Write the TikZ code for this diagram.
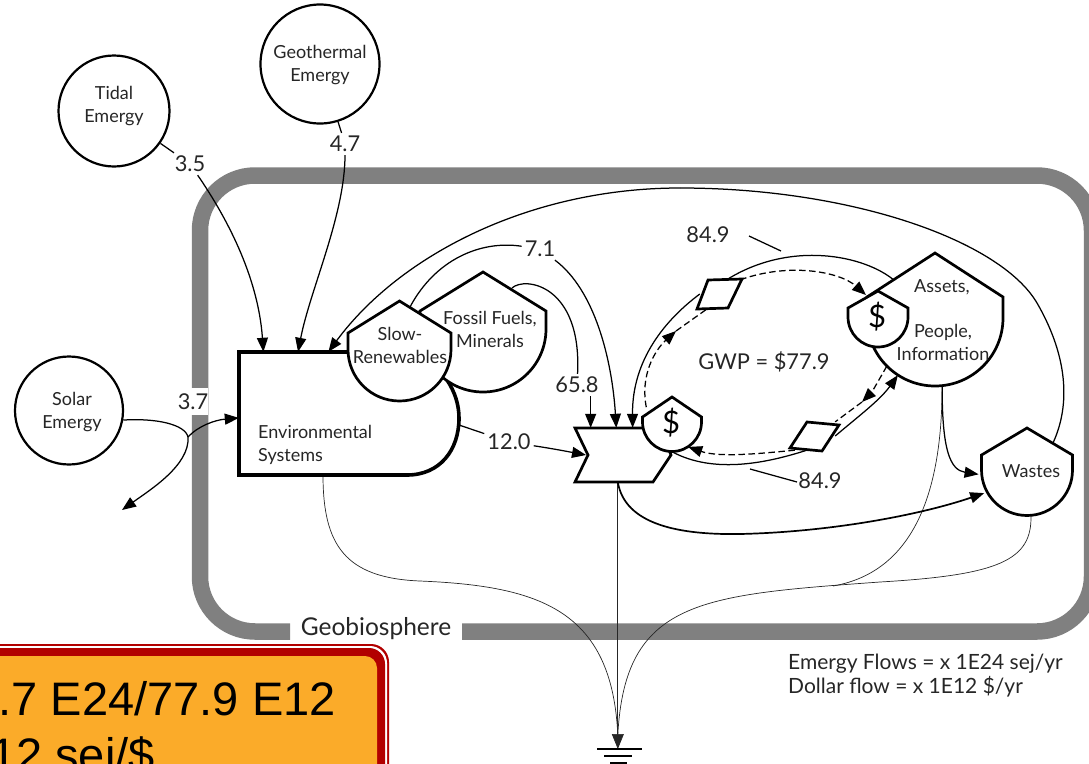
\documentclass[tikz,border=0pt]{standalone}
\usepackage{fontspec}
\setmainfont{Lato}
\newfontfamily\notefont{Liberation Sans}
\usetikzlibrary{arrows.meta,positioning}
\definecolor{bandgray}{gray}{0.5}
\definecolor{notered}{RGB}{178,0,0}
\definecolor{noteorange}{RGB}{251,171,41}
\newcommand{\tankshape}[5]{\draw[tankline] (#1,#2) -- (#1+#5,#3) -- (#1+#5,#4)
  arc[start angle=0,end angle=-180,radius=#5 pt] -- (#1-#5,#3) -- cycle;}

\begin{document}
\begin{tikzpicture}[
  x=1pt, y=-1pt,
  source/.style={draw, circle, line width=2.2pt, inner sep=0pt, fill=white},
  hold/.style={circle, inner sep=0pt},
  boxhold/.style={rectangle, inner sep=0pt},
  tankline/.style={draw, line width=2.7pt, fill=white, line join=miter},
  txt/.style={font=\fontsize{18}{23}\selectfont, text=black!85, align=center, inner sep=0pt},
  lbl/.style={font=\fontsize{21.8}{24}\selectfont, text=black!85, inner sep=3pt},
  flow/.style={line width=1.25pt},
  arr/.style={flow, -{Triangle[length=14pt,width=11pt]}},
  moneydash/.style={line width=1.25pt, dash pattern=on 6.5pt off 3.5pt},
  dasharr/.style={moneydash, -{Triangle[length=14pt,width=11pt]}},
  thinflow/.style={line width=0.7pt, black!85},
  band/.style={line width=16.5pt, bandgray, rounded corners=55pt}
]
  \clip (0,0) rectangle (1089,763);

  \draw[band] (290,631.5) -- (200,631.5) -- (200,175.5) -- (1092,175.5)
    -- (1092,631.5) -- (462,631.5);
  \node[lbl, fill=white, minimum height=27pt, inner sep=0pt] (lblSolar) at (193,401.5) {3.7};

  \node[source, minimum size=111pt] (tidal) at (114,111) {};
  \node[source, minimum size=119pt] (geo) at (320,64) {};
  \node[source, minimum size=108pt] (solar) at (69,410.5) {};

  \node[boxhold, minimum width=168pt, minimum height=123pt] (env) at (323,413.5) {};
  \node[boxhold, minimum width=68pt, minimum height=54pt] (prod) at (609,455) {};
  \node[boxhold, minimum width=40pt, minimum height=28pt] (priceup) at (720,294) {};
  \node[boxhold, minimum width=40pt, minimum height=28pt] (pricelow) at (815,436) {};
  \foreach \nm/\cx/\cy/\hw in {fossil/483/329/63, slow/399.5/349.5/51.5, cash/672/422/29.5,
    assets/935/318/68, assetcash/878/317/30, wastes/1027/470/45.5}
    \node[hold, minimum size=2*\hw pt] (\nm) at (\cx,\cy) {};

  \coordinate (slowout) at (410,307);
  \coordinate (fossilout) at (512,288);
  \coordinate (envout) at (459,425);
  \coordinate (assetsout) at (895,281);
  \coordinate (wasteout) at (1051,447);
  \coordinate (notch) at (586,455);
  \coordinate (solarsplit) at (188,437);
  \coordinate (solarout) at (122,510);
  \coordinate (cashin) at (866,295);
  \coordinate (tipleft) at (676,331);
  \coordinate (tipright) at (862,402);
  \coordinate (sink) at (617.8,749);
  \coordinate (sinkend) at (617.8,735);

  \node[lbl] (lblTidal) at (190,164) {3.5};
  \node[lbl] (lblGeo) at (345,144) {4.7};
  \node[lbl] (lblSeven) at (540,249) {7.1};
  \node[lbl] (lblFossil) at (577,385) {65.8};
  \node[lbl] (lblTwelve) at (509,442) {12.0};
  \node[lbl] (lblTop) at (708,235) {84.9};
  \node[lbl] (lblBottom) at (820,481) {84.9};

  \draw[thinflow] (env.south) .. controls (323,545) and (345,578) .. (420,581)
    .. controls (540,586) and (612,610) .. (sinkend);
  \draw[thinflow] (wastes.-85) .. controls (1032,560) and (1000,575) .. (880,582)
    .. controls (700,595) and (625,600) .. (sinkend);
  \draw[thinflow] (assets.-84) .. controls (942,470) and (925,570) .. (833,586);
  \draw[thinflow, -{Triangle[length=15pt,width=12pt]}] (prod.-72) -- (prod.-72 |- sink);

  \draw[flow] (tidal) -- (lblTidal);
  \draw[flow] (geo) -- (lblGeo);
  \draw[flow] (slowout) .. controls (435,260) and (480,240) .. (lblSeven);
  \draw[flow] (fossilout) .. controls (525,276) and (582,285) .. (lblFossil);
  \draw[flow] (envout) -- (lblTwelve);
  \draw[flow] (wasteout) .. controls (1070,410) and (1070,360) .. (1037,303)
    .. controls (1000,240) and (850,188) .. (680,188);
  \draw[flow] (assetsout) .. controls (865,255) and (790,240) .. (priceup.65);
  \draw[flow] (pricelow.-120) .. controls (770,462) and (715,475) .. (cash.-90);
  \draw[flow] (lblTop) ++(41,1) -- ++(32,15);
  \draw[flow] (lblBottom) ++(-23,1) -- ++(-47,-13);

  \draw[tankline, line width=3.6pt] (348,352) -- (239,352) -- (239,475) -- (407,475)
    .. controls (440,475) and (459,450) .. (459,418) .. controls (459,405) and (455,392) .. (447,380);
  \tankshape{483}{272}{311}{329}{63}
  \tankshape{399.5}{301}{333}{349.5}{51.5}
  \draw[tankline] (575,428) -- (660,428) -- (671,455) -- (653,482) -- (575,482) -- (588,455) -- cycle;
  \tankshape{672}{397}{417}{422}{29.5}
  \tankshape{935}{253}{297}{318}{68}
  \tankshape{878}{291}{308}{317}{30}
  \tankshape{1027}{428}{455}{470}{45.5}
  \draw[tankline] (708,280) -- (742,279) -- (728,308) -- (697,309) -- cycle;
  \draw[tankline] (807,422) -- (839,425) -- (822,451) -- (790,448) -- cycle;

  \draw[arr] (lblTidal) .. controls (225,215) and (258,275) .. (env.134);
  \draw[arr] (lblGeo) .. controls (345,215) and (310,290) .. (env.112);
  \draw[arr] (680,188) .. controls (530,188) and (400,255) .. (env.85);
  \draw[flow] (solar.-10) .. controls (155,418) and (185,424) .. (solarsplit);
  \draw[arr] (solarsplit) .. controls (190,465) and (150,490) .. (solarout);
  \draw[arr] (solarsplit) .. controls (198,426) and (215,420) .. (env.183);
  \draw[arr] (lblSeven) .. controls (595,290) and (612,360) .. (prod.75.6);
  \draw[arr] (prod.124 |- lblFossil.south) -- (prod.124);
  \draw[arr] (lblTwelve) .. controls (555,449) and (570,452) .. (notch);
  \draw[arr] (priceup.west) .. controls (665,320) and (632,360) .. (prod.49.6);
  \draw[arr] (pricelow.east) .. controls (860,415) and (880,400) .. (assets.-123);
  \draw[dasharr] (priceup.north east) .. controls (790,262) and (840,272) .. (cashin);
  \draw[dasharr] (cash.150) .. controls (640,375) and (655,350) .. (tipleft);
  \draw[moneydash] (tipleft) -- (priceup.-130);
  \draw[dasharr] (assets.-135) .. controls (880,378) and (872,392) .. (tipright);
  \draw[moneydash] (tipright) -- (pricelow.north east);
  \draw[dasharr] (pricelow.south west) .. controls (765,453) and (720,458) .. (cash.-57);
  \draw[arr, shorten >=3pt] (assets.-84) .. controls (942,450) and (950,470) .. (wastes.186);
  \draw[flow, line width=1.7pt, -{Triangle[length=14pt,width=11pt]}, shorten >=3pt] (prod.-72)
    .. controls (625,525) and (680,535) .. (740,534) .. controls (830,532) and (920,515) .. (wastes.209);

  \node[txt] (tidaltxt) at (114,106.5) {Tidal\\Emergy};
  \node[txt] (geotxt) at (320,65) {Geothermal\\Emergy};
  \node[txt] (solartxt) at (72,412.5) {Solar\\Emergy};
  \node[txt] (slowtxt) at (400,345) {Slow-\\Renewables};
  \node[txt] (fossiltxt) at (490,329) {Fossil Fuels,\\Minerals};
  \node[txt, align=left, anchor=west] (envtxt) at (258,445) {Environmental\\Systems};
  \node[txt] (asset1txt) at (942,287) {Assets,};
  \node[txt] (asset2txt) at (943,342) {People,\\Information};
  \node[txt] (wastetxt) at (1031,471) {Wastes};
  \node[font=\fontsize{31}{31}\selectfont, inner sep=0pt] (dollar1) at (671,423) {\$};
  \node[font=\fontsize{31}{31}\selectfont, inner sep=0pt] (dollar2) at (877,317) {\$};
  \node[lbl, inner sep=0pt] (gwp) at (764,362) {GWP = \$77.9};
  \node[font=\fontsize{24.5}{26}\selectfont, text=black!85, inner sep=0pt] (geobio) at (376,629) {Geobiosphere};
  \node[font=\fontsize{21}{24}\selectfont, text=black!85, align=left, anchor=north west, inner sep=0pt] (legend)
    at (788,654) {Emergy Flows = x 1E24 sej/yr\\Dollar flow = x 1E12 \$/yr};

  \draw[line width=1.5pt] (597,749) -- (642,749);
  \draw[line width=1.5pt] (604,756) -- (632,756);
  \draw[line width=3pt] (610,763) -- (627,763);

  \fill[notered, rounded corners=18pt] (-30,644) rectangle (389,800);
  \fill[white, rounded corners=17pt] (-30,646) rectangle (387,800);
  \fill[notered, rounded corners=16pt] (-30,648) rectangle (385,800);
  \fill[noteorange, rounded corners=12pt] (-30,656) rectangle (377,800);
  \node[font=\notefont\fontsize{47}{50}\selectfont, anchor=base east, inner sep=0pt] (noteone)
    at (336,715) {.7 E24/77.9 E12};
  \node[font=\notefont\fontsize{47}{50}\selectfont, anchor=base east, inner sep=0pt] (notetwo)
    at (155,771) {12 sei/\$};
\end{tikzpicture}
\end{document}
